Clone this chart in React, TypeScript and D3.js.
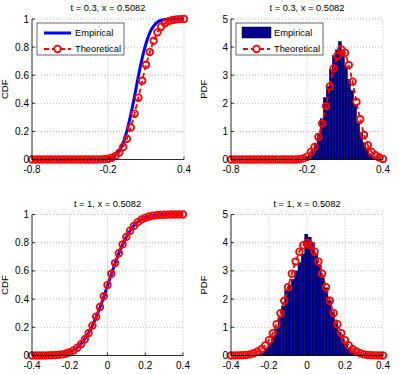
import React from 'react';
import * as d3 from 'd3';

// sample grids of the theoretical curves
const topX = [-0.8, -0.77, -0.74, -0.71, -0.68, -0.65, -0.62, -0.59, -0.56, -0.53, -0.5, -0.47, -0.44, -0.41, -0.38, -0.35, -0.32, -0.29, -0.26, -0.23, -0.2, -0.17, -0.14, -0.11, -0.08, -0.05, -0.02, 0.01, 0.04, 0.07, 0.1, 0.13, 0.16, 0.19, 0.22, 0.25, 0.28, 0.31, 0.34, 0.37, 0.4];
const bottomX = [-0.4, -0.38, -0.36, -0.34, -0.32, -0.3, -0.28, -0.26, -0.24, -0.22, -0.2, -0.18, -0.16, -0.14, -0.12, -0.1, -0.08, -0.06, -0.04, -0.02, 0, 0.02, 0.04, 0.06, 0.08, 0.1, 0.12, 0.14, 0.16, 0.18, 0.2, 0.22, 0.24, 0.26, 0.28, 0.3, 0.32, 0.34, 0.36, 0.38, 0.4];

// t = 0.3
const topTheoCdf = [0, 0, 0, 0, 0, 0, 0, 0, 0, 0, 0, 0, 0, 0, 0, 0, 0, 0, 0.001, 0.002, 0.005, 0.012, 0.026, 0.049, 0.089, 0.147, 0.227, 0.326, 0.44, 0.56, 0.674, 0.765, 0.845, 0.905, 0.945, 0.97, 0.985, 0.993, 0.997, 0.999, 1];
const topEmpCdf = [0, 0, 0, 0, 0, 0, 0, 0, 0, 0, 0, 0, 0, 0, 0, 0, 0, 0, 0.001, 0.002, 0.005, 0.013, 0.03, 0.063, 0.119, 0.206, 0.319, 0.452, 0.594, 0.722, 0.826, 0.902, 0.95, 0.977, 0.991, 0.997, 0.999, 1, 1, 1, 1];
const topTheoPdf = [0, 0, 0, 0, 0, 0, 0, 0, 0, 0, 0, 0, 0, 0, 0, 0, 0, 0, 0.01, 0.04, 0.1, 0.27, 0.45, 0.8, 1.28, 1.9, 2.6, 3.24, 3.68, 3.92, 3.8, 3.36, 2.77, 2.05, 1.43, 0.87, 0.51, 0.27, 0.15, 0.07, 0.02];
const topBinStart = -0.24;
const topBinWidth = 0.024;
const topHist = [0.03, 0.08, 0.17, 0.3, 0.55, 0.9, 1.45, 2.2, 2.6, 3.2, 3.7, 3.9, 4.2, 3.8, 3.3, 2.85, 2.45, 1.95, 1.3, 0.95, 0.6, 0.35, 0.2, 0.1, 0.05, 0.02];

// t = 1
const bottomTheoCdf = [0, 0.0001, 0.0002, 0.0003, 0.0007, 0.0013, 0.0026, 0.0047, 0.0082, 0.0139, 0.0228, 0.0359, 0.0548, 0.0808, 0.1151, 0.1587, 0.2119, 0.2743, 0.3446, 0.4207, 0.5, 0.5793, 0.6554, 0.7257, 0.7881, 0.8413, 0.8849, 0.9192, 0.9452, 0.9641, 0.9772, 0.9861, 0.9918, 0.9953, 0.9974, 0.9987, 0.9993, 0.9997, 0.9998, 0.9999, 1];
const bottomEmpCdf = [0, 0, 0, 0.0005, 0.001, 0.002, 0.003, 0.005, 0.009, 0.015, 0.024, 0.037, 0.056, 0.083, 0.118, 0.16, 0.212, 0.272, 0.34, 0.415, 0.495, 0.575, 0.652, 0.724, 0.787, 0.84, 0.885, 0.92, 0.946, 0.965, 0.978, 0.987, 0.993, 0.996, 0.998, 0.999, 1, 1, 1, 1, 1];
const bottomTheoPdf = [0.001, 0.003, 0.006, 0.01, 0.02, 0.04, 0.08, 0.14, 0.22, 0.36, 0.54, 0.79, 1.11, 1.5, 1.94, 2.42, 2.9, 3.33, 3.68, 3.91, 3.99, 3.91, 3.68, 3.33, 2.9, 2.42, 1.94, 1.5, 1.11, 0.79, 0.54, 0.36, 0.22, 0.14, 0.08, 0.04, 0.02, 0.01, 0.006, 0.003, 0.001];
const bottomBinStart = -0.2925;
const bottomBinWidth = 0.0175;
const bottomHist = [0.01, 0.03, 0.07, 0.14, 0.25, 0.42, 0.65, 0.95, 1.35, 1.75, 2.3, 2.5, 2.7, 3.0, 3.3, 3.6, 4.3, 4.2, 4.0, 3.6, 3.2, 2.75, 2.4, 1.95, 1.55, 1.15, 0.82, 0.58, 0.4, 0.27, 0.16, 0.09, 0.05, 0.02];

// ticks
const topXTicks = [-0.8, -0.2, 0.4];
const topXTickLabels = ['-0.8', '-0.2', '0.4'];
const bottomXTicks = [-0.4, -0.2, 0, 0.2, 0.4];
const bottomXTickLabels = ['-0.4', '-0.2', '0', '0.2', '0.4'];
const cdfYTicks = [0, 0.2, 0.4, 0.6, 0.8, 1];
const cdfYTickLabels = ['0', '0.2', '0.4', '0.6', '0.8', '1'];
const pdfYTicks = [0, 1, 2, 3, 4, 5];
const pdfYTickLabels = ['0', '1', '2', '3', '4', '5'];

const FONT = '"Liberation Sans", Arial, Helvetica, sans-serif';
const RED = '#ff0000';
const BLUE = '#0000ff';
const NAVY = '#00008c';
const CIRCLE_R = 3.3;
const RED_W = 1.8;

type PanelProps = {
  box: [number, number, number, number]; // left, top, right, bottom
  xDomain: [number, number];
  yDomain: [number, number];
  xTicks: number[];
  xTickLabels: string[];
  yTicks: number[];
  yTickLabels: string[];
  title: string;
  ylabel: string;
  gridX: number[];
  theo: number[];
  empLine?: number[];
  hist?: { start: number; width: number; heights: number[] };
  legend?: 'line' | 'bar';
};

function Panel(p: PanelProps) {
  const [l, t, r, b] = p.box;
  const x = d3.scaleLinear().domain(p.xDomain).range([l, r]);
  const y = d3.scaleLinear().domain(p.yDomain).range([b, t]);
  const line = d3.line<number>()
    .x((_, i) => x(p.gridX[i]))
    .y(d => y(d));
  const smooth = d3.line<number>()
    .x((_, i) => x(p.gridX[i]))
    .y(d => y(d))
    .curve(d3.curveMonotoneX);

  const lx = l + 5;
  const ly = t + 4;

  return (
    <g fontFamily={FONT}>
      {/* grid */}
      <g stroke="#9a9a9a" strokeWidth={0.7} strokeDasharray="1,2">
        {p.xTicks.map(v => (
          <line key={'gx' + v} x1={x(v)} x2={x(v)} y1={b} y2={t} />
        ))}
        {p.yTicks.map(v => (
          <line key={'gy' + v} x1={l} x2={r} y1={y(v)} y2={y(v)} />
        ))}
      </g>

      {p.hist && (
        <g fill={NAVY} stroke="#000030" strokeWidth={0.4}>
          {p.hist.heights.map((h, i) => {
            const x0 = p.hist!.start + i * p.hist!.width;
            return (
              <rect key={i} x={x(x0)} width={x(x0 + p.hist!.width) - x(x0)}
                y={y(h)} height={y(0) - y(h)} />
            );
          })}
        </g>
      )}

      {p.empLine && (
        <path d={smooth(p.empLine) || ''} fill="none" stroke={BLUE} strokeWidth={3} />
      )}

      <path d={line(p.theo) || ''} fill="none" stroke={RED} strokeWidth={RED_W} strokeDasharray="5,3" />
      <g fill="none" stroke={RED} strokeWidth={RED_W}>
        {p.theo.map((v, i) => (
          <circle key={i} cx={x(p.gridX[i])} cy={y(v)} r={CIRCLE_R} />
        ))}
      </g>

      {/* axes */}
      <line x1={l} x2={l} y1={t} y2={b} stroke="#000" strokeWidth={0.8} />
      <line x1={l} x2={r} y1={b} y2={b} stroke="#000" strokeWidth={0.8} />
      {p.yTicks.map((v, i) => (
        <g key={'yt' + v}>
          <line x1={l} x2={l + 3} y1={y(v)} y2={y(v)} stroke="#000" strokeWidth={0.8} />
          <text x={l - 3} y={y(v)} dy="0.35em" textAnchor="end" fontSize={10} fill="#000">
            {p.yTickLabels[i]}
          </text>
        </g>
      ))}
      {p.xTicks.map((v, i) => (
        <g key={'xt' + v}>
          <line x1={x(v)} x2={x(v)} y1={b} y2={b - 3} stroke="#000" strokeWidth={0.8} />
          <text x={x(v)} y={b + 13} textAnchor="middle" fontSize={10} fill="#000">
            {p.xTickLabels[i]}
          </text>
        </g>
      ))}

      <text x={(l + r) / 2} y={t - 8} textAnchor="middle" fontSize={9.3} fill="#000">{p.title}</text>
      <text transform={`translate(${l - 24},${(t + b) / 2}) rotate(-90)`} textAnchor="middle"
        fontSize={9.5} fill="#000">{p.ylabel}</text>

      {/* legend */}
      {p.legend && (
        <g>
          <rect x={lx} y={ly} width={87} height={32} fill="#fff" stroke="#000" strokeWidth={0.6} />
          {p.legend === 'line' ? (
            <line x1={lx + 7} x2={lx + 34} y1={ly + 10} y2={ly + 10} stroke={BLUE} strokeWidth={3} />
          ) : (
            <rect x={lx + 6} y={ly + 4} width={29} height={11} fill={NAVY} stroke="#000" strokeWidth={0.5} />
          )}
          <text x={lx + 38} y={ly + 13} fontSize={9.3} fill="#000">Empirical</text>
          <line x1={lx + 7} x2={lx + 34} y1={ly + 26} y2={ly + 26} stroke={RED} strokeWidth={RED_W} strokeDasharray="5,3" />
          <circle cx={lx + 20.5} cy={ly + 26} r={CIRCLE_R} fill="#fff" stroke={RED} strokeWidth={RED_W} />
          <text x={lx + 38} y={ly + 29} fontSize={9.3} fill="#000">Theoretical</text>
        </g>
      )}
    </g>
  );
}

export default function App() {
  return (
    <div style={{ position: 'fixed', left: 0, top: 0 }}>
      <svg width={399} height={374} style={{ display: 'block', background: '#fff' }}>
        <Panel box={[32, 19, 184, 159.5]} xDomain={[-0.8, 0.4]} yDomain={[0, 1]}
          xTicks={topXTicks} xTickLabels={topXTickLabels} yTicks={cdfYTicks} yTickLabels={cdfYTickLabels}
          title="t = 0.3, x = 0.5082" ylabel="CDF" gridX={topX} theo={topTheoCdf} empLine={topEmpCdf} legend="line" />
        <Panel box={[231, 19, 383, 159.5]} xDomain={[-0.8, 0.4]} yDomain={[0, 5]}
          xTicks={topXTicks} xTickLabels={topXTickLabels} yTicks={pdfYTicks} yTickLabels={pdfYTickLabels}
          title="t = 0.3, x = 0.5082" ylabel="PDF" gridX={topX} theo={topTheoPdf}
          hist={{ start: topBinStart, width: topBinWidth, heights: topHist }} legend="bar" />
        <Panel box={[32, 214.5, 183, 355.5]} xDomain={[-0.4, 0.4]} yDomain={[0, 1]}
          xTicks={bottomXTicks} xTickLabels={bottomXTickLabels} yTicks={cdfYTicks} yTickLabels={cdfYTickLabels}
          title="t = 1, x = 0.5082" ylabel="CDF" gridX={bottomX} theo={bottomTheoCdf} empLine={bottomEmpCdf} />
        <Panel box={[231, 214.5, 383, 355.5]} xDomain={[-0.4, 0.4]} yDomain={[0, 5]}
          xTicks={bottomXTicks} xTickLabels={bottomXTickLabels} yTicks={pdfYTicks} yTickLabels={pdfYTickLabels}
          title="t = 1, x = 0.5082" ylabel="PDF" gridX={bottomX} theo={bottomTheoPdf}
          hist={{ start: bottomBinStart, width: bottomBinWidth, heights: bottomHist }} />
      </svg>
    </div>
  );
}
